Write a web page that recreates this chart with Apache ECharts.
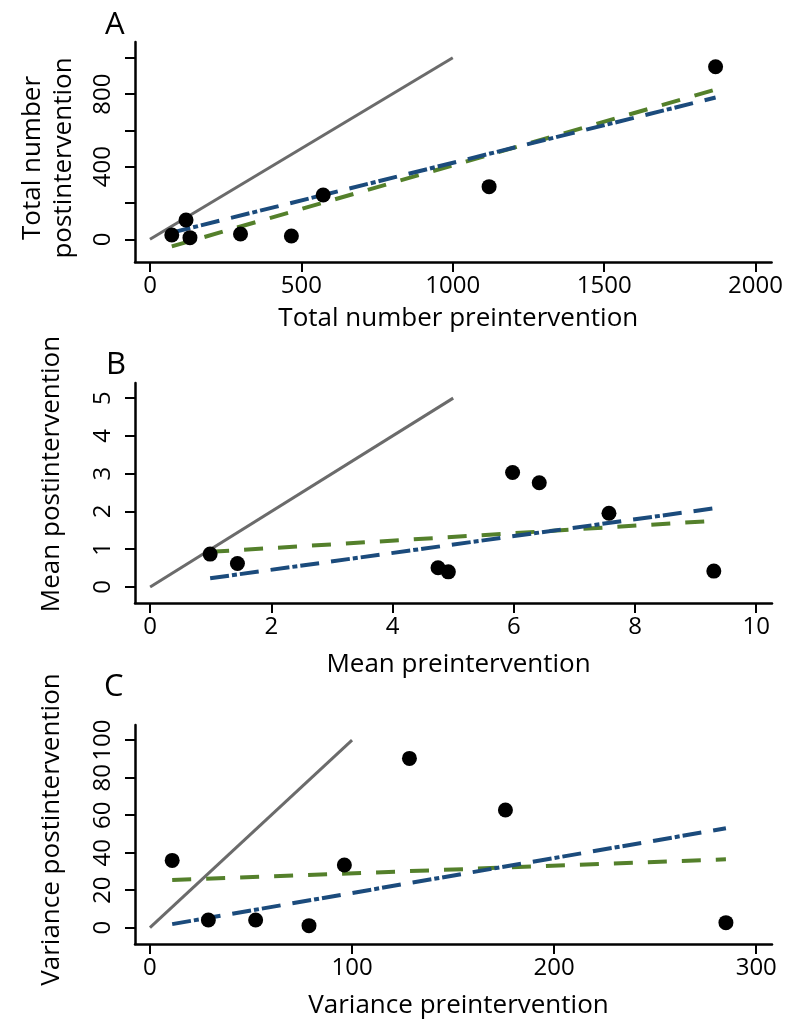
<!DOCTYPE html>
<html>
<head>
<meta charset="utf-8">
<script src="https://cdn.jsdelivr.net/npm/echarts@6/dist/echarts.min.js"></script>
<style>html,body{margin:0;padding:0;background:#fff;}#c{width:786px;height:1020px;}</style>
</head>
<body>
<div id="c"></div>
<script>
// Panel A: totals
const preTotal  = [72, 119, 132, 299, 467, 572, 1120, 1868];
const postTotal = [24, 106, 9, 29, 18, 244, 290, 951];
const identityA = [[0, 0], [1000, 1000]];
const fitGreenA = [[72, -39], [1868, 825]];
const fitBlueA  = [[72, 37], [1868, 781]];
const xTicksA = [0, 500, 1000, 1500, 2000];
const yTicksA = [0, 200, 400, 600, 800, 1000];
const yLabelsA = [0, 400, 800];

// Panel B: means
const preMean  = [0.99, 1.44, 4.75, 4.92, 5.98, 6.42, 7.57, 9.30];
const postMean = [0.87, 0.62, 0.51, 0.40, 3.03, 2.76, 1.95, 0.42];
const identityB = [[0, 0], [5, 5]];
const fitGreenB = [[0.99, 0.93], [9.30, 1.75]];
const fitBlueB  = [[0.99, 0.23], [9.30, 2.08]];
const xTicksB = [0, 2, 4, 6, 8, 10];
const yTicksB = [0, 1, 2, 3, 4, 5];

// Panel C: variances
const preVar  = [11.0, 28.9, 52.3, 78.7, 96.2, 128.4, 175.9, 285.0];
const postVar = [35.9, 4.1, 4.1, 1.1, 33.4, 90.3, 62.8, 2.7];
const identityC = [[0, 0], [100, 100]];
const fitGreenC = [[11.0, 25.4], [285.0, 36.5]];
const fitBlueC  = [[11.0, 1.9], [285.0, 53.0]];
const xTicksC = [0, 100, 200, 300];
const yTicksC = [0, 20, 40, 60, 80, 100];

const FONT = 'Open Sans';
const GRAY = '#6b6b6b', GREEN = '#54802b', BLUE = '#1b4b7c';

const chart = echarts.init(document.getElementById('c'), null, {renderer: 'canvas'});
const plain = v => String(v);

function xAxis(idx, min, max, ticks, name, gap) {
  return {
    type: 'value', gridIndex: idx, min: min, max: max, splitLine: {show: false},
    axisLine: {show: true, onZero: false, lineStyle: {color: '#000', width: 2.5}},
    axisTick: {show: true, length: 10, lineStyle: {color: '#000', width: 2}, customValues: ticks},
    axisLabel: {show: true, color: '#000', fontFamily: FONT, fontSize: 24, margin: 12, customValues: ticks, formatter: plain},
    name: name, nameLocation: 'middle', nameGap: gap,
    nameTextStyle: {color: '#000', fontFamily: FONT, fontSize: 26, padding: [0, 0, 0, 10]}
  };
}
function yAxis(idx, min, max, ticks, labels, name, gap, lh, pad) {
  return {
    type: 'value', gridIndex: idx, min: min, max: max, splitLine: {show: false},
    axisLine: {show: true, onZero: false, lineStyle: {color: '#000', width: 2.5}},
    axisTick: {show: true, length: 10, lineStyle: {color: '#000', width: 2}, customValues: ticks},
    axisLabel: {show: true, color: '#000', fontFamily: FONT, fontSize: 24, margin: 20, rotate: 90, customValues: labels, formatter: plain},
    name: name, nameLocation: 'middle', nameGap: gap, nameRotate: 90,
    nameTextStyle: {color: '#000', fontFamily: FONT, fontSize: 26, lineHeight: lh, padding: pad}
  };
}
function pts(xs, ys) { return xs.map((x, i) => [x, ys[i]]); }
function panelSeries(idx, xs, ys, ident, green, blue) {
  return [
    {type: 'line', xAxisIndex: idx, yAxisIndex: idx, data: ident, symbol: 'none', silent: true,
     lineStyle: {color: GRAY, width: 3}, z: 2},
    {type: 'line', xAxisIndex: idx, yAxisIndex: idx, data: green, symbol: 'none', silent: true,
     lineStyle: {color: GREEN, width: 4, type: [19, 15]}, z: 3},
    {type: 'line', xAxisIndex: idx, yAxisIndex: idx, data: blue, symbol: 'none', silent: true,
     lineStyle: {color: BLUE, width: 4, type: [19, 3, 5, 3, 19, 12]}, z: 4},
    {type: 'scatter', xAxisIndex: idx, yAxisIndex: idx, data: pts(xs, ys), symbol: 'circle', symbolSize: 15,
     itemStyle: {color: '#000', opacity: 1}, z: 5}
  ];
}

chart.setOption({
  backgroundColor: '#fff',
  animation: false,
  grid: [
    {left: 135, top: 42, width: 637, height: 220},
    {left: 135, top: 383, width: 637, height: 220},
    {left: 135, top: 725, width: 637, height: 219}
  ],
  xAxis: [
    xAxis(0, -49.5, 2053, xTicksA, 'Total number preintervention', 44),
    xAxis(1, -0.25, 10.26, xTicksB, 'Mean preintervention', 49),
    xAxis(2, -7.4, 307.8, xTicksC, 'Variance preintervention', 49)
  ],
  yAxis: [
    yAxis(0, -125, 1087, yTicksA, yLabelsA, 'Total number\npostintervention', 56, 31, [0, 12, 0, 0]),
    yAxis(1, -0.425, 5.40, yTicksB, yTicksB, 'Mean postintervention', 68, 30, [0, 0, 0, 38]),
    yAxis(2, -8.7, 108.1, yTicksC, yTicksC, 'Variance postintervention', 68, 30, [0, 0, 0, 10])
  ],
  graphic: [
    {type: 'text', left: 105, top: 10, style: {text: 'A', font: '31px "Open Sans"', fill: '#000'}},
    {type: 'text', left: 106, top: 350, style: {text: 'B', font: '31px "Open Sans"', fill: '#000'}},
    {type: 'text', left: 104, top: 672, style: {text: 'C', font: '31px "Open Sans"', fill: '#000'}}
  ],
  series: [].concat(
    panelSeries(0, preTotal, postTotal, identityA, fitGreenA, fitBlueA),
    panelSeries(1, preMean, postMean, identityB, fitGreenB, fitBlueB),
    panelSeries(2, preVar, postVar, identityC, fitGreenC, fitBlueC)
  )
});
</script>
</body>
</html>
